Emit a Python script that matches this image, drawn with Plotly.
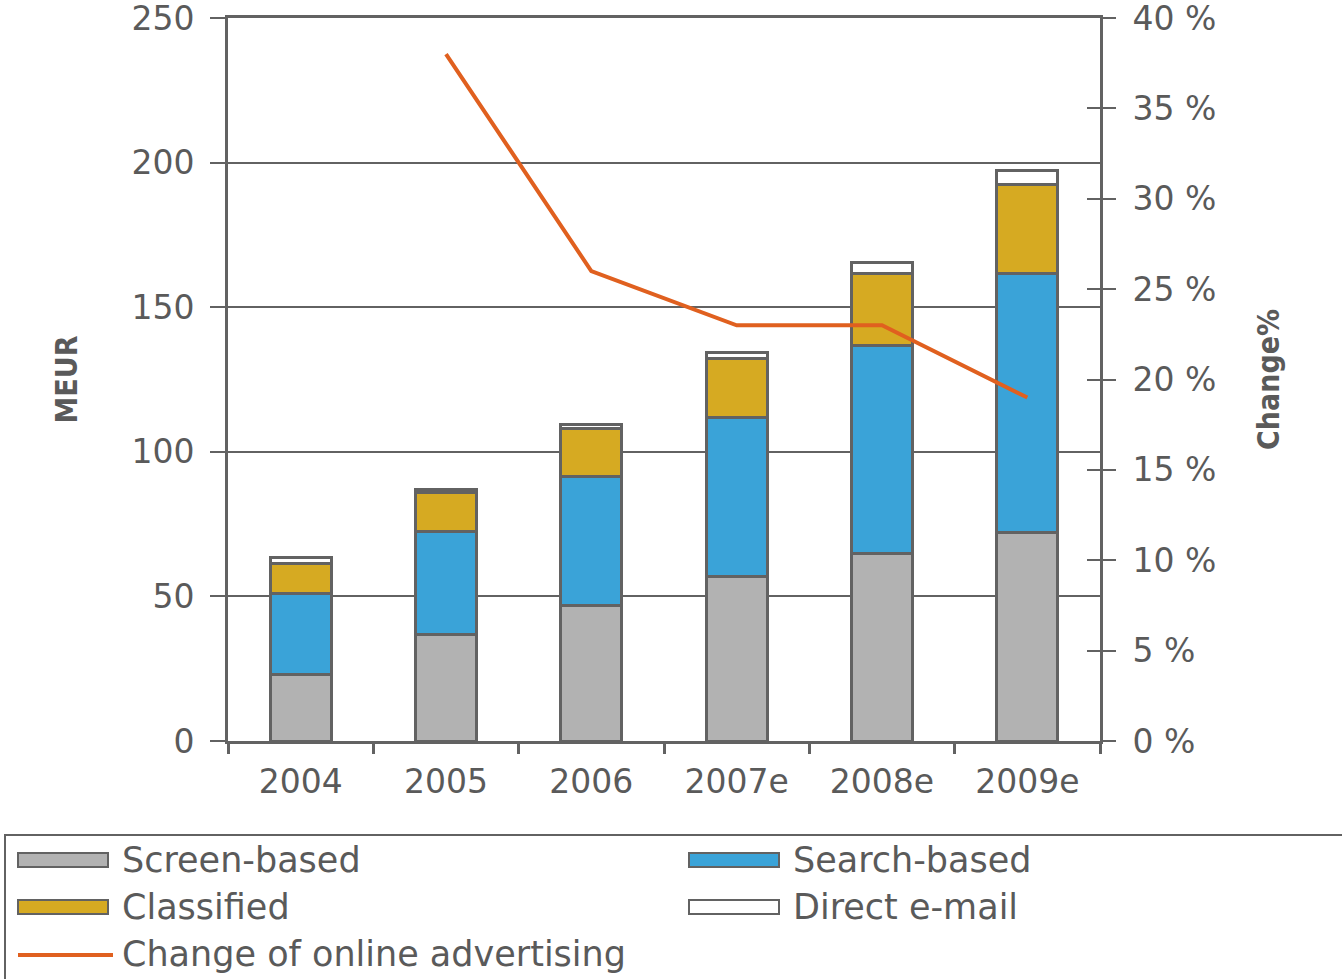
import plotly.graph_objects as go

categories = ["2004", "2005", "2006", "2007e", "2008e", "2009e"]
screen_based = [23, 37, 47, 57, 65, 72]
search_based = [28, 35.6, 44.6, 55, 71.6, 89.5]
classified = [10.5, 13.2, 16.6, 20.4, 24.9, 31]
direct_email = [1.8, 1.3, 1.4, 2.1, 3.8, 4.8]
change_cats = ["2005", "2006", "2007e", "2008e", "2009e"]
change_pct = [38, 26, 23, 23, 19]

series_names = ["Screen-based", "Search-based", "Classified", "Direct e-mail"]
series_colors = ["#b2b2b2", "#3aa3d8", "#d6aa22", "#ffffff"]
line_name = "Change of online advertising"
line_color = "#e0601f"

W, H = 1342, 979
L, R, T, B = 228, 1100, 18, 741
GRAY = "#626262"
TXT = "#5a5a5a"
FONT = "DejaVu Sans"
TITLE_FONT = "DejaVu Sans Condensed, Liberation Sans Narrow, DejaVu Sans"


def px(x):
    return (x - L) / (R - L)


def py(y):
    return (B - y) / (B - T)


fig = go.Figure()
for name, vals, col in zip(series_names, [screen_based, search_based, classified, direct_email], series_colors):
    fig.add_trace(go.Bar(x=categories, y=vals, name=name, marker=dict(color=col, line=dict(color=GRAY, width=3)),
                         showlegend=False))

fig.add_trace(go.Scatter(x=change_cats, y=change_pct, yaxis="y2", mode="lines", name=line_name,
                         line=dict(color=line_color, width=4), showlegend=False))
# invisible trace to carry the inside tick marks of the right axis
fig.add_trace(go.Scatter(x=[categories[0]], y=[0], yaxis="y3", mode="markers", marker=dict(opacity=0),
                         showlegend=False, hoverinfo="skip"))

fig.update_layout(
    width=W, height=H,
    margin=dict(l=L, r=W - R, t=T, b=H - B, pad=0),
    paper_bgcolor="white", plot_bgcolor="white",
    barmode="stack", bargap=0.58,
    font=dict(family=FONT, color=TXT, size=33),
    xaxis=dict(showline=True, linecolor=GRAY, linewidth=3, mirror=True, ticks="outside", ticklen=10, tickwidth=3,
               tickcolor=GRAY, tickson="boundaries", showgrid=False, tickfont=dict(size=33, color=TXT),
               automargin=False, ticklabelstandoff=9),
    yaxis=dict(range=[0, 250], dtick=50, showline=True, linecolor=GRAY, linewidth=3, ticks="outside",
               ticklen=15, tickwidth=2, tickcolor=GRAY, showgrid=True, gridcolor=GRAY, gridwidth=2,
               zeroline=False, tickfont=dict(size=33, color=TXT), automargin=False, ticklabelstandoff=9,
               ticklabeloverflow="allow",
               title=dict(text="<b>MEUR</b>", font=dict(size=30, color=TXT, family=TITLE_FONT), standoff=45)),
    yaxis2=dict(range=[0, 40], dtick=5, overlaying="y", side="right", anchor="x", showline=True,
                linecolor=GRAY, linewidth=3, ticks="outside", ticklen=13, tickwidth=2, tickcolor=GRAY,
                ticksuffix=" %", showgrid=False, zeroline=False, tickfont=dict(size=33, color=TXT),
                automargin=False, ticklabelstandoff=10, ticklabeloverflow="allow",
                title=dict(text="<b>Change%</b>", font=dict(size=30, color=TXT, family=TITLE_FONT), standoff=43)),
    yaxis3=dict(range=[0, 40], dtick=5, overlaying="y", side="right", anchor="x", showline=False,
                ticks="inside", ticklen=13, tickwidth=2, tickcolor=GRAY, showticklabels=False,
                showgrid=False, zeroline=False, automargin=False),
)

# legend box drawn as annotations and shapes
shapes = [dict(type="rect", xref="paper", yref="paper", x0=px(5), x1=px(1346), y0=py(835), y1=py(990),
               line=dict(color=GRAY, width=2), fillcolor="rgba(0,0,0,0)")]
annotations = []
legend_items = [
    (series_names[0], series_colors[0], 18, 860),
    (series_names[1], series_colors[1], 689, 860),
    (series_names[2], series_colors[2], 18, 907),
    (series_names[3], series_colors[3], 689, 907),
]
for name, col, x0, yc in legend_items:
    shapes.append(dict(type="rect", xref="paper", yref="paper", x0=px(x0), x1=px(x0 + 90),
                       y0=py(yc - 7), y1=py(yc + 7), line=dict(color=GRAY, width=2), fillcolor=col))
    annotations.append(dict(text=name, xref="paper", yref="paper", x=px(x0 + 102), y=py(yc), xanchor="left",
                            yanchor="middle", showarrow=False, font=dict(size=35, color=TXT, family=FONT)))
shapes.append(dict(type="line", xref="paper", yref="paper", x0=px(18), x1=px(113), y0=py(955), y1=py(955),
                   line=dict(color=line_color, width=4)))
annotations.append(dict(text=line_name, xref="paper", yref="paper", x=px(120), y=py(954), xanchor="left",
                        yanchor="middle", showarrow=False, font=dict(size=35, color=TXT, family=FONT)))

fig.update_layout(shapes=shapes, annotations=annotations)
fig.write_html("out.html", config={"displayModeBar": False},
               post_script="document.body.style.margin='0';document.body.style.overflow='hidden';")
